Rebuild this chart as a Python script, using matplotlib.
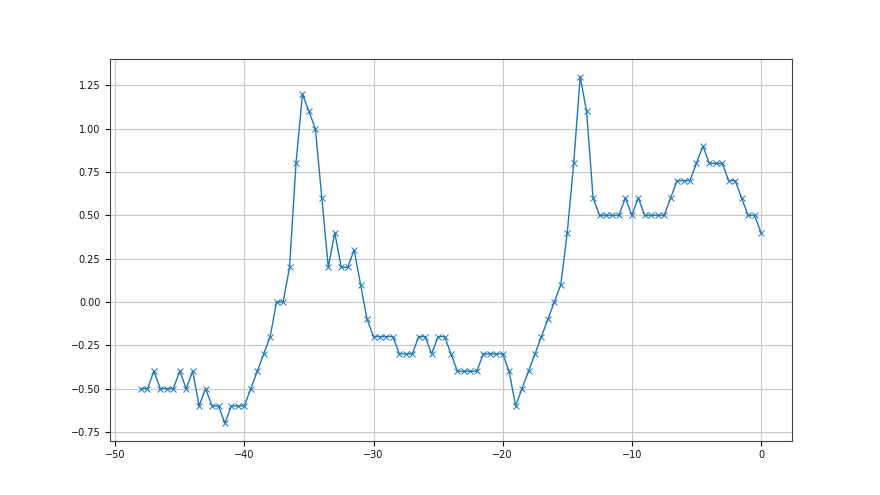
import numpy as np
import matplotlib
matplotlib.use("Agg")
import matplotlib.pyplot as plt

x_start = -48.0
x_step = 0.5
values = [
    -0.5, -0.5, -0.4, -0.5, -0.5, -0.5, -0.4, -0.5, -0.4, -0.6,
    -0.5, -0.6, -0.6, -0.7, -0.6, -0.6, -0.6, -0.5, -0.4, -0.3,
    -0.2, 0.0, 0.0, 0.2, 0.8, 1.2, 1.1, 1.0, 0.6, 0.2,
    0.4, 0.2, 0.2, 0.3, 0.1, -0.1, -0.2, -0.2, -0.2, -0.2,
    -0.3, -0.3, -0.3, -0.2, -0.2, -0.3, -0.2, -0.2, -0.3, -0.4,
    -0.4, -0.4, -0.4, -0.3, -0.3, -0.3, -0.3, -0.4, -0.6, -0.5,
    -0.4, -0.3, -0.2, -0.1, 0.0, 0.1, 0.4, 0.8, 1.3, 1.1,
    0.6, 0.5, 0.5, 0.5, 0.5, 0.6, 0.5, 0.6, 0.5, 0.5,
    0.5, 0.5, 0.6, 0.7, 0.7, 0.7, 0.8, 0.9, 0.8, 0.8,
    0.8, 0.7, 0.7, 0.6, 0.5, 0.5, 0.4,
]
x = x_start + x_step * np.arange(len(values))

fig, ax = plt.subplots(figsize=(8.8, 4.95), dpi=100)
ax.plot(x, values, marker='x', color='#1f77b4', linewidth=1.0, markersize=4, markeredgewidth=0.7)
ax.grid(True, color='#c8c8c8', linewidth=0.8)
ax.tick_params(labelsize=7, colors='#111111')
for s in ax.spines.values():
    s.set_color('#444444')
ax.set_yticks([-0.75, -0.5, -0.25, 0.0, 0.25, 0.5, 0.75, 1.0, 1.25])
fig.savefig("out.png", dpi=100)
